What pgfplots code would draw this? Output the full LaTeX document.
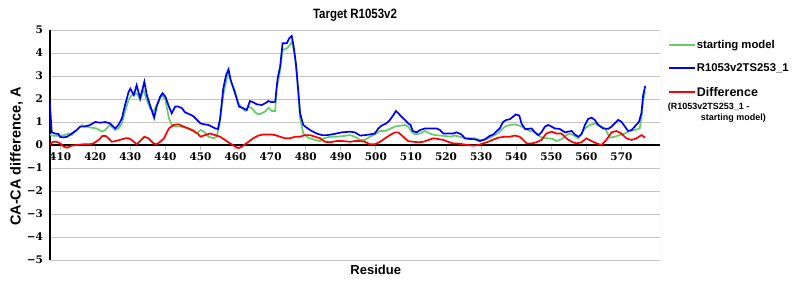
\documentclass[border=0pt]{standalone}
\usepackage{fontspec}
\setmainfont{Liberation Sans}
\newfontfamily\tickfont{DejaVu Serif}
\usepackage{pgfplots}
\usepackage{pgfplotstable}
\pgfplotsset{compat=1.18}
\definecolor{cgreen}{RGB}{102,204,102}
\definecolor{cblue}{RGB}{0,0,255}
\definecolor{cred}{RGB}{255,0,0}
\definecolor{gridgray}{RGB}{196,196,196}

\pgfplotstableread{
x y
407 1.95
407.6 0.55
408.5 0.5
409.5 0.48
410 0.35
411 0.33
412 0.36
413.3 0.5
414.7 0.65
415.7 0.8
417 0.8
418.5 0.87
420 1.0
421.4 0.97
422.8 1.0
424.2 0.94
425.7 0.72
426.6 0.87
427.6 1.16
428.5 1.74
429.5 2.3
430 2.45
431 2.17
431.8 2.6
432.8 2.03
434 2.75
434.7 2.17
435.6 1.74
436.8 1.19
437.5 1.67
438.5 2.1
439.2 2.25
440 2.1
441 1.67
441.8 1.38
442.8 1.67
443.7 1.67
444.7 1.6
445.6 1.42
447 1.33
448 1.25
449 1.09
450 0.94
451 0.9
452.3 0.87
453.2 0.8
454.2 0.72
455 0.7
455.6 1.16
456 1.74
456.5 2.46
457.3 3.04
458 3.29
458.6 2.83
459.4 2.46
460.3 2.03
461 1.67
462.2 1.6
463.2 1.52
464.1 1.91
465 1.86
466 1.77
467.5 1.74
468.4 1.81
469.4 1.91
470.3 1.86
471.3 1.88
472 2.9
472.7 3.4
473.4 4.42
474.6 4.42
475.3 4.64
476 4.74
476.5 4.35
477.2 3.55
477.9 2.32
478.4 1.38
479.3 0.87
480.3 0.75
481.7 0.61
483.1 0.5
484.6 0.43
486 0.43
487.4 0.46
488.8 0.5
490.3 0.55
492.6 0.58
494 0.55
495.5 0.41
496.9 0.43
498.3 0.46
499.7 0.5
500.7 0.72
501.6 0.84
503 0.94
504 1.09
505 1.3
505.7 1.48
506.4 1.38
507.3 1.23
508.3 1.09
509.2 0.94
509.9 0.87
510.5 0.61
511.6 0.55
512.6 0.65
514 0.72
515.4 0.72
517.3 0.72
518.3 0.65
519.2 0.5
520.6 0.5
522 0.5
523 0.55
524.4 0.46
525.4 0.29
526.8 0.26
528.2 0.25
529.7 0.17
531.1 0.25
532.5 0.4
533.5 0.46
534.4 0.6
535.3 0.72
536.3 1.01
537.2 1.09
538.2 1.12
539.1 1.23
539.9 1.33
540.9 1.28
541.5 0.94
542.5 0.7
543.4 0.7
544.4 0.72
545.3 0.55
546.3 0.43
547.2 0.55
548.2 0.8
549.1 0.87
550.1 0.8
551 0.72
552.4 0.7
553.9 0.55
554.8 0.58
555.8 0.61
556.7 0.46
557.7 0.36
558.6 0.46
559.6 0.87
560.5 1.13
561.5 1.19
562.4 1.09
563.4 0.87
564.8 0.72
566.2 0.7
567.2 0.8
568.1 0.94
569.1 1.09
570 1.01
571 0.8
571.9 0.61
572.9 0.65
573.8 0.8
575 1.01
575.7 1.38
576.2 2.17
576.8 2.57
}\bluedata

\pgfplotstableread{
x y
407 0.45
408 0.4
409.5 0.4
411.4 0.43
412.4 0.5
413.3 0.43
414.7 0.65
416.2 0.87
417.6 0.8
419 0.75
420.4 0.72
421.9 0.58
422.8 0.65
424.2 0.87
425.7 0.65
426.6 0.72
427.6 0.94
428.5 1.45
429.5 1.96
430.4 2.17
431.8 2.25
432.8 1.96
433.7 2.4
434.7 1.96
435.6 1.6
436.6 1.45
437.5 1.74
439 2.17
440 1.96
441 1.16
441.8 0.87
442.8 0.8
444.2 0.8
445.6 0.75
447 0.68
448 0.65
449 0.5
450 0.65
451 0.58
452.3 0.36
453.7 0.29
454.6 0.36
455.4 0.87
456 1.6
456.5 2.17
457.5 2.9
458 3.1
458.9 2.68
459.9 2.32
460.8 1.81
461.8 1.62
462.7 1.48
463.7 1.67
464.6 1.6
465.6 1.42
466.5 1.33
467.5 1.38
468.4 1.45
469.4 1.62
470.3 1.48
471.3 1.48
471.7 2.46
472.5 3.04
473.4 4.13
474.6 4.2
475.5 4.35
476 4.49
476.7 4.06
477.4 3.19
477.9 2.17
478.4 1.16
479.3 0.5
480.3 0.36
481.2 0.29
482.7 0.22
484.1 0.17
485 0.29
487 0.36
488.8 0.36
490.7 0.39
492.6 0.43
494 0.36
495.5 0.22
496.9 0.22
498.3 0.36
499.7 0.46
501.2 0.61
502.6 0.61
504 0.7
505.4 0.8
506.9 0.84
508.3 0.87
509.2 0.8
510.2 0.58
511.1 0.46
512.6 0.5
514 0.61
515.4 0.5
516.8 0.43
518.3 0.41
519.7 0.39
521.1 0.36
522.5 0.41
524 0.36
525.4 0.29
526.8 0.29
528.2 0.29
529.7 0.22
531.1 0.22
532.5 0.32
533.9 0.43
535.3 0.58
536.8 0.8
538.2 0.87
539.6 0.9
541 0.84
542.5 0.72
543.9 0.61
545.3 0.58
546.3 0.43
547.7 0.29
549.1 0.29
550.5 0.26
551.5 0.17
552.9 0.25
554.3 0.43
555.3 0.5
556.2 0.43
557.7 0.29
558.6 0.5
559.6 0.72
561 0.87
562.4 0.94
563.8 0.84
565.3 0.72
566.7 0.32
568.1 0.36
569.5 0.43
571 0.5
572.4 0.61
573.8 0.65
575.2 0.72
575.7 1.16
576.2 1.96
576.8 2.32
}\greendata

\pgfplotstableread{
x y
407 0.03
408 0.14
409 0.14
410 0.07
411 -0.07
412 -0.12
413.3 -0.03
414.7 0.0
416.6 0.03
418.5 0.03
419.5 0.07
421 0.22
422 0.39
423 0.39
423.8 0.29
424.7 0.14
425.7 0.17
427 0.22
428.5 0.29
429.5 0.29
430.4 0.22
431.8 0.03
432.8 0.17
434 0.36
435.2 0.29
436.6 0.07
437.5 0.03
438.5 0.14
439.6 0.29
441 0.72
442.3 0.87
443.7 0.9
445.2 0.8
446.6 0.72
448 0.61
449.3 0.48
450 0.36
451.3 0.43
452.7 0.5
454.2 0.43
455.6 0.36
457 0.22
458.4 0.07
459.9 -0.07
460.8 -0.14
461.8 -0.07
462.7 0.03
463.7 0.14
465 0.29
466.5 0.41
468 0.46
469.8 0.46
471.3 0.43
472.7 0.36
474.1 0.29
475.5 0.29
477 0.36
478.4 0.36
479.8 0.43
481.2 0.43
482.7 0.36
484.1 0.29
485.5 0.14
487 0.12
488.8 0.17
490.7 0.17
492.6 0.14
494 0.17
495.5 0.17
496.9 0.14
498.3 0.03
499.7 0.03
501.2 0.14
502.6 0.29
504 0.43
505.4 0.55
506.4 0.55
507.3 0.43
508.3 0.29
509.2 0.17
510.7 0.14
512.1 0.12
513.5 0.14
515 0.22
516.4 0.29
517.8 0.26
519.2 0.22
520.6 0.14
522 0.07
523.5 0.06
524.9 0.03
526.3 0.0
527.8 -0.03
529.2 0.0
530.6 0.07
532 0.14
533.5 0.24
534.9 0.32
536.8 0.36
538.2 0.36
539.6 0.41
541 0.36
542 0.22
543 0.07
544.4 0.07
545.8 0.12
547.2 0.22
548.6 0.5
550.1 0.58
551.5 0.5
552.9 0.5
554.3 0.29
555.8 0.14
557.2 0.07
558.6 0.12
560 0.29
561.5 0.17
562.9 0.07
564.3 0.0
565.7 0.22
567.2 0.55
568.6 0.61
570 0.5
571.4 0.29
572.9 0.22
574.3 0.29
575.7 0.43
576.8 0.32
}\reddata

\begin{document}
\begin{tikzpicture}
\useasboundingbox (0pt,0pt) rectangle (800pt,300pt);
\begin{axis}[
  at={(50pt,40pt)}, anchor=south west,
  scale only axis, width=610pt, height=230pt,
  xmin=407.1, xmax=581, ymin=-5, ymax=5,
  axis x line=middle, axis y line=left,
  axis line style={-, black, line width=1.2pt},
  hide obscured x ticks=false, hide obscured y ticks=false,
  xtick={410,420,...,570},
  xticklabels={410,420,430,440,450,460,470,480,490,500,510,520,530,540,550,560,570},
  ytick={-5,-4,...,5},
  yticklabels={−5,−4,−3,−2,−1,0,1,2,3,4,5},
  xtick align=outside,
  major tick length=5pt,
  xtick style={gridgray, line width=1pt},
  ytick style={draw=none},
  ymajorgrids,
  grid style={gridgray, line width=1pt},
  ticklabel style={font=\tickfont\bfseries\fontsize{10.5}{12}\selectfont},
  xticklabel style={yshift=1pt},
  yticklabel style={xshift=-1pt},
  title={\scalebox{0.85}[1]{\fontsize{13.5}{15}\selectfont\bfseries Target R1053v2}},
  title style={at={(axis description cs:0.5,1.04)}, anchor=center, yshift=0pt},
  xlabel={Residue},
  xlabel style={at={(axis description cs:0.534,-0.045)}, anchor=center, font=\bfseries\fontsize{13}{15}\selectfont},
  ylabel={CA-CA difference, A},
  ylabel style={at={(axis description cs:-0.055,0.45)}, anchor=center, rotate=0, font=\bfseries\fontsize{14.5}{16}\selectfont},
  legend style={at={(axis description cs:1.013,0.962)}, anchor=north west, draw=none, fill=none,
    font=\bfseries\fontsize{11.3}{13}\selectfont, row sep=12pt, inner sep=0pt,
    nodes={inner sep=1pt}},
  legend cell align=left,
  legend image code/.code={\draw[#1, line width=1.8pt] (0pt,0pt) -- (14pt,0pt); \path (0pt,0pt) -- (26pt,0pt);},
  every axis plot/.append style={line width=1.7pt, mark=none},
]
\addplot[cgreen] table[x=x,y=y] {\greendata};
\addlegendentry{starting model}
\addplot[cblue] table[x=x,y=y] {\bluedata};
\addlegendentry{R1053v2TS253\_1}
\addplot[cred] table[x=x,y=y] {\reddata};
\addlegendentry{\begin{tabular}[t]{@{}l@{}}{\fontsize{12.5}{13}\selectfont Difference}\\[0pt]{\fontsize{9}{10}\selectfont\hspace*{-29pt}(R1053v2TS253\_1 -}\\[-2pt]{\fontsize{9}{10}\selectfont\hspace*{4pt}starting model)}\end{tabular}}
\draw[gridgray, line width=1pt] (rel axis cs:1,0) -- (rel axis cs:1,1);
\end{axis}
\end{tikzpicture}
\end{document}
